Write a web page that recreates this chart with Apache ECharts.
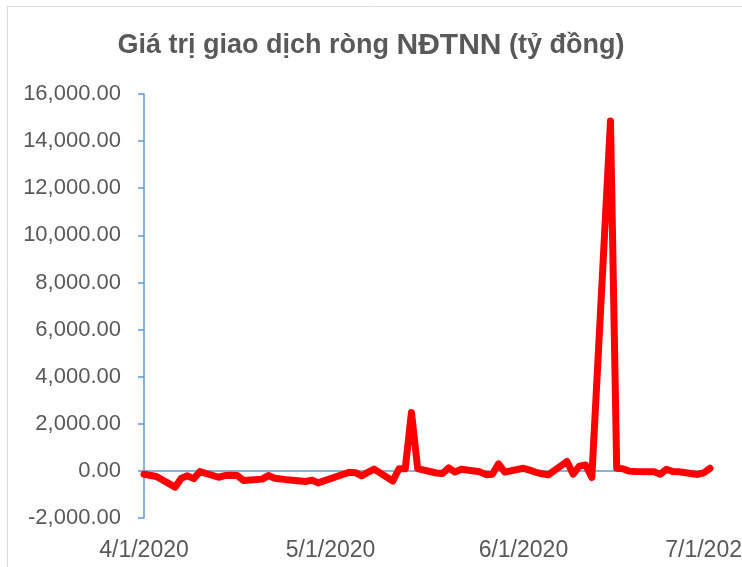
<!DOCTYPE html>
<html>
<head>
<meta charset="utf-8">
<script src="https://cdn.jsdelivr.net/npm/echarts@6/dist/echarts.min.js"></script>
<style>
html,body{margin:0;padding:0;background:#fff;}
#chart{width:742px;height:567px;}
</style>
</head>
<body>
<div id="chart"></div>
<script>
// Trading days (Vietnam, Apr–Jul 2020)
const dates = [
  '2020-04-01','2020-04-03','2020-04-06','2020-04-07','2020-04-08','2020-04-09','2020-04-10',
  '2020-04-13','2020-04-14','2020-04-15','2020-04-16','2020-04-17',
  '2020-04-20','2020-04-21','2020-04-22','2020-04-23','2020-04-24',
  '2020-04-27','2020-04-28','2020-04-29',
  '2020-05-04','2020-05-05','2020-05-06','2020-05-07','2020-05-08',
  '2020-05-11','2020-05-12','2020-05-13','2020-05-14','2020-05-15',
  '2020-05-18','2020-05-19','2020-05-20','2020-05-21','2020-05-22',
  '2020-05-25','2020-05-26','2020-05-27','2020-05-28','2020-05-29',
  '2020-06-01','2020-06-02','2020-06-03','2020-06-04','2020-06-05',
  '2020-06-08','2020-06-09','2020-06-10','2020-06-11','2020-06-12',
  '2020-06-15','2020-06-16','2020-06-17','2020-06-18','2020-06-19',
  '2020-06-22','2020-06-23','2020-06-24','2020-06-25','2020-06-26',
  '2020-06-29','2020-06-30','2020-07-01'
];
// Net foreign trading value (billion VND)
const netValues = [
  -140, -240, -690, -310, -210, -330, -30,
  -270, -200, -190, -200, -410,
  -350, -200, -310, -340, -380,
  -450, -390, -510,
  -60, -75, -210, -60, 75,
  -430, 90, 90, 2480, 100,
  -90, -110, 130, -50, 70,
  -40, -160, -140, 300, -50,
  110, 30, -60, -120, -170,
  400, -140, 200, 250, -280,
  14850, 110, 90, -10, -30,
  -40, -140, 70, -30, -40,
  -150, -80, 110
];
const monthTicks = ['2020-04-01','2020-05-01','2020-06-01','2020-07-01'];
const yMin = -2000, yMax = 16000, yStep = 2000;
const titleMain = 'Giá trị giao dịch ròng ';
const titleBold = 'NĐTNN';
const titleTail = ' (tỷ đồng)';

function ts(s){ const p = s.split('-').map(Number); return Date.UTC(p[0], p[1]-1, p[2]); }
const seriesData = dates.map((d,i)=>[ts(d), netValues[i]]);
const FONT = '"Liberation Sans", Arial, sans-serif';
const GRAY = '#595959';
const BLUE = '#5b9bd5';

const chart = echarts.init(document.getElementById('chart'), null, {renderer:'canvas'});
chart.setOption({
  animation:false,
  backgroundColor:'#fff',
  graphic:[{
    type:'rect', left:5, top:4, silent:true,
    shape:{width:800, height:800},
    style:{fill:'none', stroke:'#d9d9d9', lineWidth:1}
  }],
  title:{
    text:'{a|'+titleMain+'}{b|'+titleBold+'}{a|'+titleTail+'}',
    left:'center', top:26,
    textStyle:{
      rich:{
        a:{fontFamily:FONT, fontSize:27, fontWeight:'bold', color:GRAY},
        b:{fontFamily:FONT, fontSize:30, fontWeight:'bold', color:GRAY}
      }
    }
  },
  grid:{left:144, right:32, top:94, bottom:49, containLabel:false, outerBoundsMode:'none'},
  xAxis:{
    type:'value',
    min:ts(monthTicks[0]), max:ts(monthTicks[monthTicks.length-1]),
    axisLine:{show:false},
    axisTick:{show:false},
    splitLine:{show:false},
    axisLabel:{
      customValues: monthTicks.map(ts),
      hideOverlap:false,
      margin:21,
      fontFamily:FONT, fontSize:23, color:GRAY,
      formatter:function(v){ const d=new Date(v); return (d.getUTCMonth()+1)+'/'+d.getUTCDate()+'/'+d.getUTCFullYear(); }
    }
  },
  yAxis:{
    type:'value', min:yMin, max:yMax, interval:yStep,
    axisLine:{show:true, lineStyle:{color:BLUE, width:1.5}},
    axisTick:{show:true, length:6, lineStyle:{color:BLUE, width:1.5}},
    splitLine:{show:false},
    axisLabel:{
      margin:23, fontFamily:FONT, fontSize:22, color:GRAY,
      formatter:function(v){ return v.toLocaleString('en-US',{minimumFractionDigits:2, maximumFractionDigits:2}); }
    }
  },
  series:[{
    type:'line',
    name:'NĐTNN',
    data:seriesData,
    showSymbol:false,
    symbol:'none',
    lineStyle:{color:'#ff0000', width:7, cap:'round', join:'round'},
    z:3,
    markLine:{
      silent:true, symbol:'none',
      label:{show:false},
      lineStyle:{color:BLUE, width:1.5, type:'solid'},
      data:[{yAxis:0}],
      z:1
    }
  }]
});
</script>
</body>
</html>
